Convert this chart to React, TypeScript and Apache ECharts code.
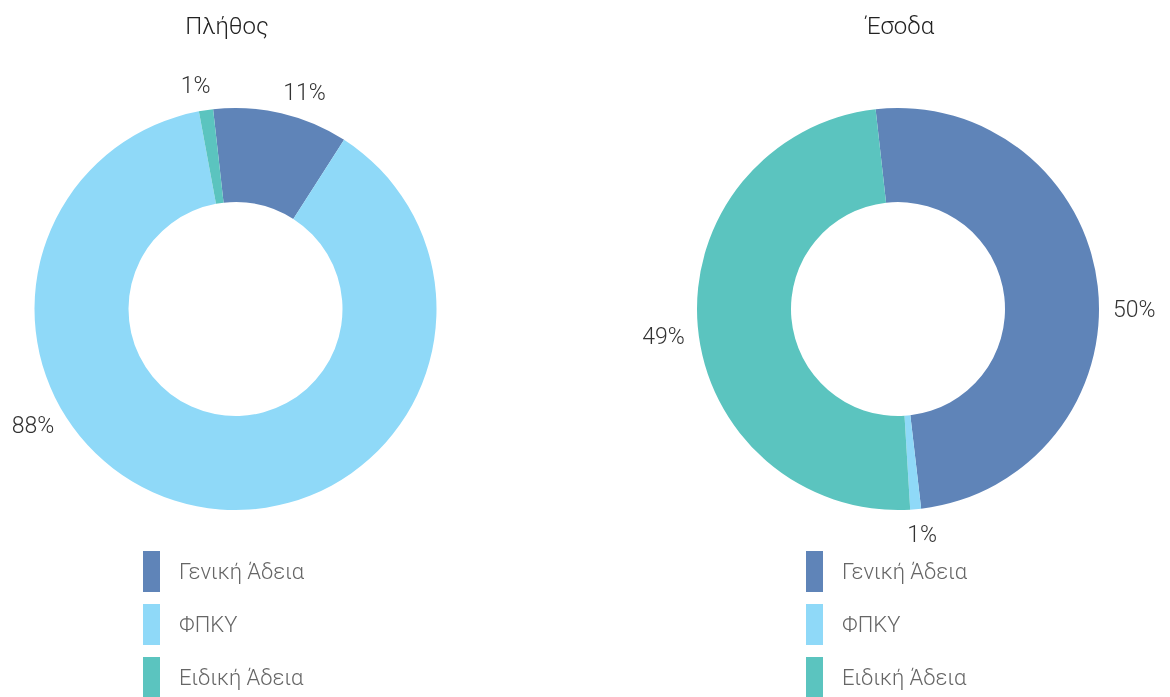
import React, { useEffect, useRef } from "react";
import * as echarts from "echarts";

const categories = ["Γενική Άδεια", "ΦΠΚΥ", "Ειδική Άδεια"];
const colors = ["#5f84b8", "#8fd9f8", "#5bc4bf"];
const titles = ["Πλήθος", "Έσοδα"];
const countShare = [10.86, 88.0, 1.14];
const revenueShare = [49.94, 0.87, 49.19];

// layout: where each percentage label sits around its ring (degrees clockwise from 12 o'clock)
const LABEL_ANGLES = [
  [17, 239, -10],
  [90, 174, 263],
];
const CENTERS = [
  [235.5, 309],
  [898, 309],
];
const R_INNER = 107;
const R_OUTER = 201;
const LABEL_GAP = 14;

const FONT = "Roboto, 'Noto Sans', sans-serif";

export default function App() {
  const ref = useRef<HTMLDivElement>(null);
  useEffect(() => {
    if (!ref.current) return;
    const chart = echarts.init(ref.current, undefined, { renderer: "svg" });
    const mkData = (vals: number[]) =>
      categories.map((name, i) => ({ name, value: vals[i], itemStyle: { color: colors[i] } }));
    const pieBase = {
      type: "pie",
      radius: [R_INNER, R_OUTER],
      startAngle: 96.4,
      clockwise: true,
      percentPrecision: 0,
      avoidLabelOverlap: false,
      label: {
        show: true,
        position: "outside",
        formatter: "{d}%",
        fontSize: 23,
        fontWeight: 300,
        color: "#333",
        fontFamily: FONT,
        distanceToLabelLine: 0,
      },
      labelLine: { show: false, length: 20, length2: 0 },
      emphasis: { disabled: true },
    };
    const legendBase = {
      orient: "vertical",
      icon: "rect",
      itemWidth: 17,
      itemHeight: 41,
      itemGap: 12,
      padding: 0,
      height: 200,
      data: categories,
      selectedMode: false,
      textStyle: { fontSize: 22, fontWeight: 300, color: "#666", fontFamily: FONT, padding: [0, 0, 0, 14] },
    };
    const labelLayout = (p: any) => {
      const s = p.seriesIndex;
      const a = (LABEL_ANGLES[s][p.dataIndex] * Math.PI) / 180;
      const dx = Math.sin(a);
      const dy = -Math.cos(a);
      const w = p.labelRect.width;
      const h = p.labelRect.height;
      const d = R_OUTER + LABEL_GAP;
      return {
        x: CENTERS[s][0] + dx * d + (dx * w) / 2,
        y: CENTERS[s][1] + dy * d + (dy * h) / 2,
        align: "center",
        verticalAlign: "middle",
      };
    };
    chart.setOption({
      animation: false,
      title: [
        { text: titles[0], left: 222, top: 9, textAlign: "center", textStyle: { fontSize: 24, fontWeight: 300, color: "#222", fontFamily: FONT } },
        { text: titles[1], left: 895, top: 9, textAlign: "center", textStyle: { fontSize: 24, fontWeight: 300, color: "#222", fontFamily: FONT } },
      ],
      legend: [
        { ...legendBase, left: 143, top: 551 },
        { ...legendBase, left: 806, top: 551 },
      ],
      series: [
        { ...pieBase, name: titles[0], center: CENTERS[0], data: mkData(countShare), labelLayout },
        { ...pieBase, name: titles[1], center: CENTERS[1], data: mkData(revenueShare), labelLayout },
      ],
    });
    return () => chart.dispose();
  }, []);
  return <div ref={ref} style={{ position: "fixed", left: 0, top: 0, width: 1170, height: 697 }} />;
}
